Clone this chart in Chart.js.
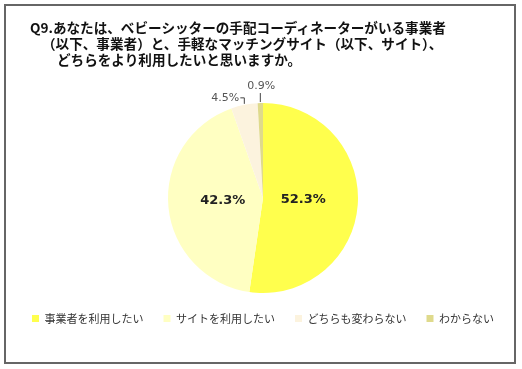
<!DOCTYPE html>
<html>
<head>
<meta charset="utf-8">
<script src="https://cdn.jsdelivr.net/npm/chart.js@4/dist/chart.umd.min.js"></script>
<style>
  html, body { margin: 0; padding: 0; background: #fff; }
  #wrap { position: relative; width: 522px; height: 369px; }
  #frame { position: absolute; left: 4px; top: 4px; width: 508px; height: 356px; border: 2px solid #666; }
  #chart { position: absolute; left: 0; top: 0; }
  .t { position: absolute; font-family: "Noto Sans CJK JP", sans-serif; font-weight: bold; font-size: 13.6px; color: #111; white-space: nowrap; line-height: 16px; }
</style>
</head>
<body>
<div id="wrap">
  <div id="frame"></div>
  <canvas id="chart" width="522" height="369"></canvas>
  <div class="t" style="left:30px; top:19px;">Q9.あなたは、ベビーシッターの手配コーディネーターがいる事業者</div>
  <div class="t" style="left:42px; top:35px;">（以下、事業者）と、手軽なマッチングサイト（以下、サイト）、</div>
  <div class="t" style="left:57px; top:51px;">どちらをより利用したいと思いますか。</div>
</div>
<script>
// answers, percent
const categories = ['事業者を利用したい', 'サイトを利用したい', 'どちらも変わらない', 'わからない'];
const shares = [52.3, 42.3, 4.5, 0.9];
const sliceColors = ['#FFFF4D', '#FFFFC2', '#FCF3DE', '#DFDA8C'];

// percent labels: big ones inside, small ones outside with a leader line
const pieLabels = {
    id: 'pieLabels',
    afterDatasetsDraw(chart) {
        const ctx = chart.ctx;
        const meta = chart.getDatasetMeta(0);
        ctx.save();
        meta.data.forEach((arc, i) => {
            const text = shares[i].toFixed(1) + '%';
            const mid = (arc.startAngle + arc.endAngle) / 2;
            const cx = arc.x, cy = arc.y, r = arc.outerRadius;
            if (shares[i] > 10) {
                const p = arc.tooltipPosition();
                ctx.font = 'bold 13px "DejaVu Sans", sans-serif';
                ctx.fillStyle = '#222';
                ctx.textAlign = 'center';
                ctx.textBaseline = 'middle';
                ctx.fillText(text, cx + (p.x - cx) * 0.85, p.y - 2);
            } else {
                const x0 = cx + Math.cos(mid) * r, y0 = cy + Math.sin(mid) * r;
                ctx.strokeStyle = '#444';
                ctx.lineWidth = 1;
                ctx.font = '11px "DejaVu Sans", sans-serif';
                ctx.fillStyle = '#555';
                ctx.beginPath();
                if (i === 2) {
                    const y1 = y0 - 7;
                    ctx.moveTo(x0, y0 - 1);
                    ctx.lineTo(x0, y1);
                    ctx.lineTo(x0 - 4, y1);
                    ctx.stroke();
                    ctx.textAlign = 'right';
                    ctx.textBaseline = 'middle';
                    ctx.fillText(text, x0 - 5, y1);
                } else {
                    ctx.moveTo(x0, y0 - 1);
                    ctx.lineTo(x0, y0 - 10);
                    ctx.stroke();
                    ctx.textAlign = 'center';
                    ctx.textBaseline = 'middle';
                    ctx.fillText(text, x0 + 1, y0 - 17);
                }
            }
        });
        ctx.restore();
    }
};

const ctx = document.getElementById('chart').getContext('2d');
new Chart(ctx, {
    type: 'pie',
    data: {
        labels: categories,
        datasets: [{
            data: shares,
            backgroundColor: sliceColors,
            borderWidth: 0
        }]
    },
    options: {
        responsive: false,
        animation: false,
        layout: { padding: { top: 103, left: 4, right: 0, bottom: 35 } },
        plugins: {
            legend: {
                position: 'bottom',
                labels: {
                    boxWidth: 7,
                    boxHeight: 7,
                    padding: 20,
                    color: '#333',
                    font: { family: '"Noto Sans CJK JP", sans-serif', size: 11 }
                }
            },
            tooltip: { enabled: false }
        }
    },
    plugins: [pieLabels]
});
</script>
</body>
</html>
